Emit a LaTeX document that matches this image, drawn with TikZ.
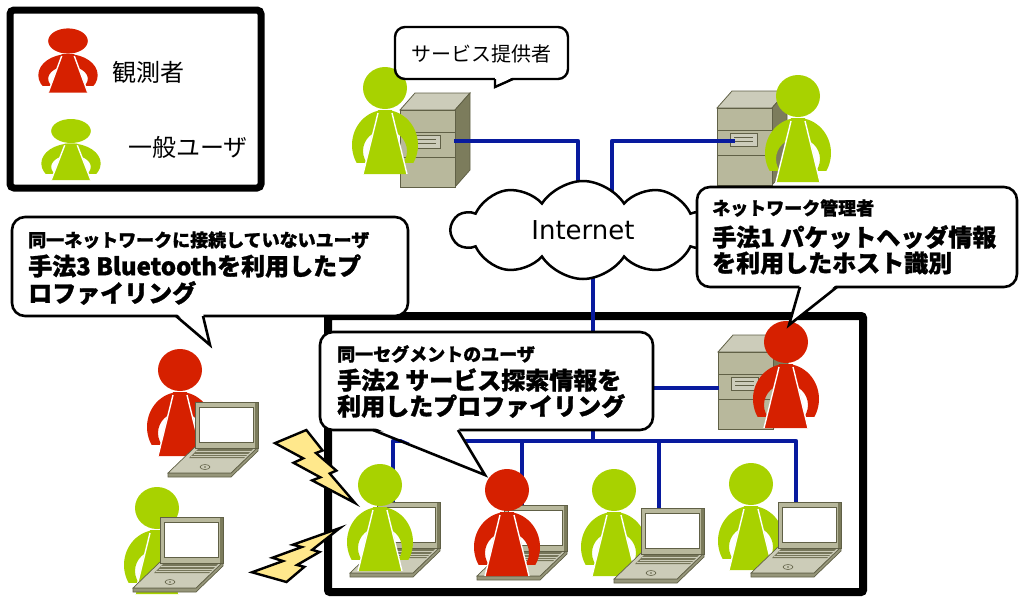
\documentclass[tikz,border=0pt]{standalone}
\usepackage{fontspec}
\newfontfamily\jpfont{Noto Sans CJK JP}[BoldFeatures={FakeBold=1.2}]
\newfontfamily\latinfont{DejaVu Sans}
\usetikzlibrary{shapes.symbols}

\definecolor{obsred}{RGB}{214,32,0}
\definecolor{usergreen}{RGB}{168,210,0}
\definecolor{netblue}{RGB}{8,26,158}
\definecolor{srvfront}{RGB}{184,184,156}
\definecolor{srvtop}{RGB}{204,204,186}
\definecolor{srvside}{RGB}{124,124,92}
\definecolor{srvline}{RGB}{96,96,70}
\definecolor{boltfill}{RGB}{255,232,140}
\definecolor{lapbody}{RGB}{204,204,184}
\definecolor{lapkey}{RGB}{118,118,90}
\definecolor{lapedge}{RGB}{150,150,122}

\tikzset{
  net/.style={draw=netblue, line width=4.6pt, line join=round},
  calloutbox/.style={draw=black, fill=white, line width=2.6pt, rounded corners=13pt},
  tailline/.style={draw=black, line width=2.6pt, line join=miter},
  smalltitle/.style={font=\jpfont\bfseries\fontsize{18}{20}\selectfont, anchor=west, inner sep=0pt},
  bigline/.style={font=\jpfont\bfseries\fontsize{24}{26}\selectfont, anchor=west, inner sep=0pt},
  boltshape/.style={fill=boltfill, draw=black, line width=2.4pt, line join=miter},
  legendtext/.style={font=\jpfont\fontsize{24}{26}\selectfont, inner sep=0pt},
}

% person icon: head centre (#1,#2), colour #3, x/y scale #4/#5
\newcommand\personicon[5]{%
  \begin{scope}[shift={(#1,#2)},xscale=#4,yscale=#5]
    \fill[#3] (0,0) ellipse [x radius=22pt, y radius=21pt];
    \begin{scope}
      \clip (-40,22) rectangle (40,74);
      \fill[#3, even odd rule] (0,57) ellipse [x radius=33pt, y radius=35pt]
                               (0,63) ellipse [x radius=22pt, y radius=21pt];
    \end{scope}
    \fill[#3] (-7,22) -- (7,22) -- (22,86) -- (-22,86) -- cycle;
    \draw[white, line width=1.4pt] (-7,25) -- (-22,86) (7,25) -- (22,86);
  \end{scope}}

% tower server: front face top-left corner at (#1,#2)
\newcommand\serverbox[2]{%
  \begin{scope}[shift={(#1,#2)}]
    \filldraw[fill=srvtop, draw=srvline, line width=0.8pt] (0,0) -- (15,-17) -- (70,-17) -- (55,0) -- cycle;
    \filldraw[fill=srvside, draw=srvline, line width=0.8pt] (55,0) -- (70,-17) -- (70,60) -- (55,77) -- cycle;
    \filldraw[fill=srvfront, draw=srvline, line width=0.8pt] (0,0) rectangle (55,77);
    \draw[srvline, line width=0.8pt] (0,22) -- (55,22) (0,47) -- (55,47);
    \filldraw[fill=srvtop, draw=srvline, line width=0.8pt] (13,25) rectangle (40,38);
    \draw[srvline, line width=0.6pt] (17,29.5) -- (36,29.5) (17,33.5) -- (36,33.5);
  \end{scope}}

% laptop: lid top-left corner at (#1,#2)
\newcommand\laptopicon[2]{%
  \begin{scope}[shift={(#1,#2)}]
    \filldraw[fill=lapedge, draw=srvline, line width=0.7pt]
      (-27,71) -- (36,71) -- (63,45) -- (63,49) -- (36,75) -- (-27,75) -- cycle;
    \filldraw[fill=lapbody, draw=srvline, line width=0.7pt]
      (0,45) -- (63,45) -- (36,71) -- (-27,71) -- cycle;
    \fill[lapkey] (3,47) -- (58,47) -- (49,56) -- (-6,56) -- cycle;
    \draw[lapbody, line width=0.8pt] (1,49.5) -- (56,49.5) (-1.5,52) -- (53.5,52) (-4,54.5) -- (51,54.5);
    \draw[srvline, line width=0.6pt] (10,65) ellipse [x radius=5pt, y radius=2.5pt];
    \fill[srvline] (10,65) circle [radius=0.8pt];
    \fill[srvfront] (0,0) rectangle (63,46);
    \fill[srvside] (59.5,0) rectangle (63,46);
    \draw[srvline, line width=0.8pt] (0,0) rectangle (63,46);
    \filldraw[fill=white, draw=srvline, line width=0.6pt] (4,5) rectangle (58,40);
  \end{scope}}

\begin{document}
\begin{tikzpicture}[x=1pt,y=-1pt]
\useasboundingbox (0,0) rectangle (1020,597);

% ---------- legend ----------
\draw[line width=7pt, rounded corners=4pt] (10,10) rectangle (261,188);
\personicon{68}{41}{obsred}{0.9}{0.6}
\personicon{71}{131}{usergreen}{0.9}{0.57}
\node[legendtext] (lobs) at (148,72) {観測者};
\node[legendtext] (luser) at (188,147) {一般ユーザ};

% ---------- local segment frame ----------
\draw[line width=8pt, rounded corners=2pt] (328,316) rectangle (863,592);

% ---------- servers ----------
\serverbox{400}{110}
\serverbox{717}{108}
\serverbox{718}{352}

% ---------- network wiring ----------
\coordinate (portA) at (454,141);
\coordinate (portB) at (735,141);
\coordinate (cloudInA) at (578,230);
\coordinate (cloudInB) at (612,230);
\coordinate (cloudOut) at (593,230);
\coordinate (hub) at (593,441);
\coordinate (adminTap) at (593,388);
\coordinate (portC) at (719,388);
\coordinate (lanL) at (393,441);
\coordinate (lanR) at (796,441);
\coordinate (lapA) at (393,503);
\coordinate (lapB) at (522,506);
\coordinate (lapC) at (659,509);
\coordinate (lapD) at (796,503);
\draw[net] (portA) -| (cloudInA);
\draw[net] (portB) -| (cloudInB);
\draw[net] (cloudOut) -- (hub);
\draw[net] (adminTap) -- (portC);
\draw[net] (lapA) -- (lanL) -- (lanR) -- (lapD);
\draw[net] (522,441) -- (lapB);
\draw[net] (659,441) -- (lapC);

% ---------- internet cloud ----------
\node[cloud, cloud puffs=10, cloud puff arc=115, aspect=2.7, draw, fill=white, line width=2.5pt,
      minimum width=262pt, minimum height=98pt, inner sep=0pt,
      font=\latinfont\fontsize{26}{28}\selectfont] (inet) at (583,230) {Internet};

% ---------- people at the top ----------
\personicon{385}{88}{usergreen}{1}{1}
\personicon{798}{96}{usergreen}{1}{1}

% ---------- network administrator ----------
\personicon{786}{342}{obsred}{1}{1}

% ---------- outside users ----------
\personicon{180}{370}{obsred}{1}{1}
\laptopicon{195}{402}
\personicon{157}{508}{usergreen}{1}{1}
\laptopicon{160}{517}

% ---------- users on the segment ----------
\laptopicon{377}{502}
\personicon{380}{485}{usergreen}{1}{1}
\laptopicon{504}{505}
\personicon{507}{490}{obsred}{1}{1}
\personicon{614}{490}{usergreen}{1}{1}
\laptopicon{641}{508}
\personicon{751}{484}{usergreen}{1}{1}
\laptopicon{778}{502}

% ---------- bluetooth bolts ----------
\begin{scope}[shift={(275,430)}, xscale=80, yscale=73]
  \draw[boltshape] (0.392,0) -- (0.595,0.281) -- (0.512,0.315) -- (0.767,0.556) -- (0.684,0.596)
    -- (1,1) -- (0.464,0.690) -- (0.566,0.648) -- (0.232,0.449) -- (0.352,0.388) -- (0,0.180) -- cycle;
\end{scope}
\begin{scope}[shift={(252,582)}, xscale=88, yscale=-54]
  \draw[boltshape] (0.392,0) -- (0.595,0.281) -- (0.512,0.315) -- (0.767,0.556) -- (0.684,0.596)
    -- (1,1) -- (0.464,0.690) -- (0.566,0.648) -- (0.232,0.449) -- (0.352,0.388) -- (0,0.180) -- cycle;
\end{scope}

% ---------- speech bubbles ----------
% service provider
\draw[calloutbox, rounded corners=10pt, line width=2.4pt] (395,27) rectangle (568,79);
\fill[white] (495,77) -- (513,77) -- (495,87) -- cycle;
\draw[tailline, line width=2.4pt] (495,79) -- (495,87) -- (513,79);
\node[font=\jpfont\fontsize{20}{22}\selectfont, inner sep=0pt] (provider) at (481,54) {サービス提供者};

% network administrator
\draw[calloutbox] (697,187) rectangle (1017,287);
\fill[white] (800,284) -- (837,284) -- (789,325) -- cycle;
\draw[tailline] (800,287) -- (789,325) -- (837,287);
\node[smalltitle] (adminT) at (712,208) {ネットワーク管理者};
\node[bigline] (adminA) at (712,237) {手法1 パケットヘッダ情報};
\node[bigline] (adminB) at (712,263) {を利用したホスト識別};

% users not on the network
\draw[calloutbox] (12,217) rectangle (408,316);
\fill[white] (176,313) -- (203,313) -- (210,345) -- cycle;
\draw[tailline] (176,316) -- (210,345) -- (203,316);
\node[smalltitle] (btT) at (28,240) {同一ネットワークに接続していないユーザ};
\node[bigline] (btA) at (28,266) {手法3 Bluetoothを利用したプ};
\node[bigline] (btB) at (28,293) {ロファイリング};

% users on the same segment
\draw[calloutbox] (320,332) rectangle (653,430);
\fill[white] (373,427) -- (458,427) -- (485,475) -- cycle;
\draw[tailline] (373,430) -- (485,475) -- (458,430);
\node[smalltitle] (segT) at (337,354) {同一セグメントのユーザ};
\node[bigline] (segA) at (337,380) {手法2 サービス探索情報を};
\node[bigline] (segB) at (337,406) {利用したプロファイリング};

\end{tikzpicture}
\end{document}
